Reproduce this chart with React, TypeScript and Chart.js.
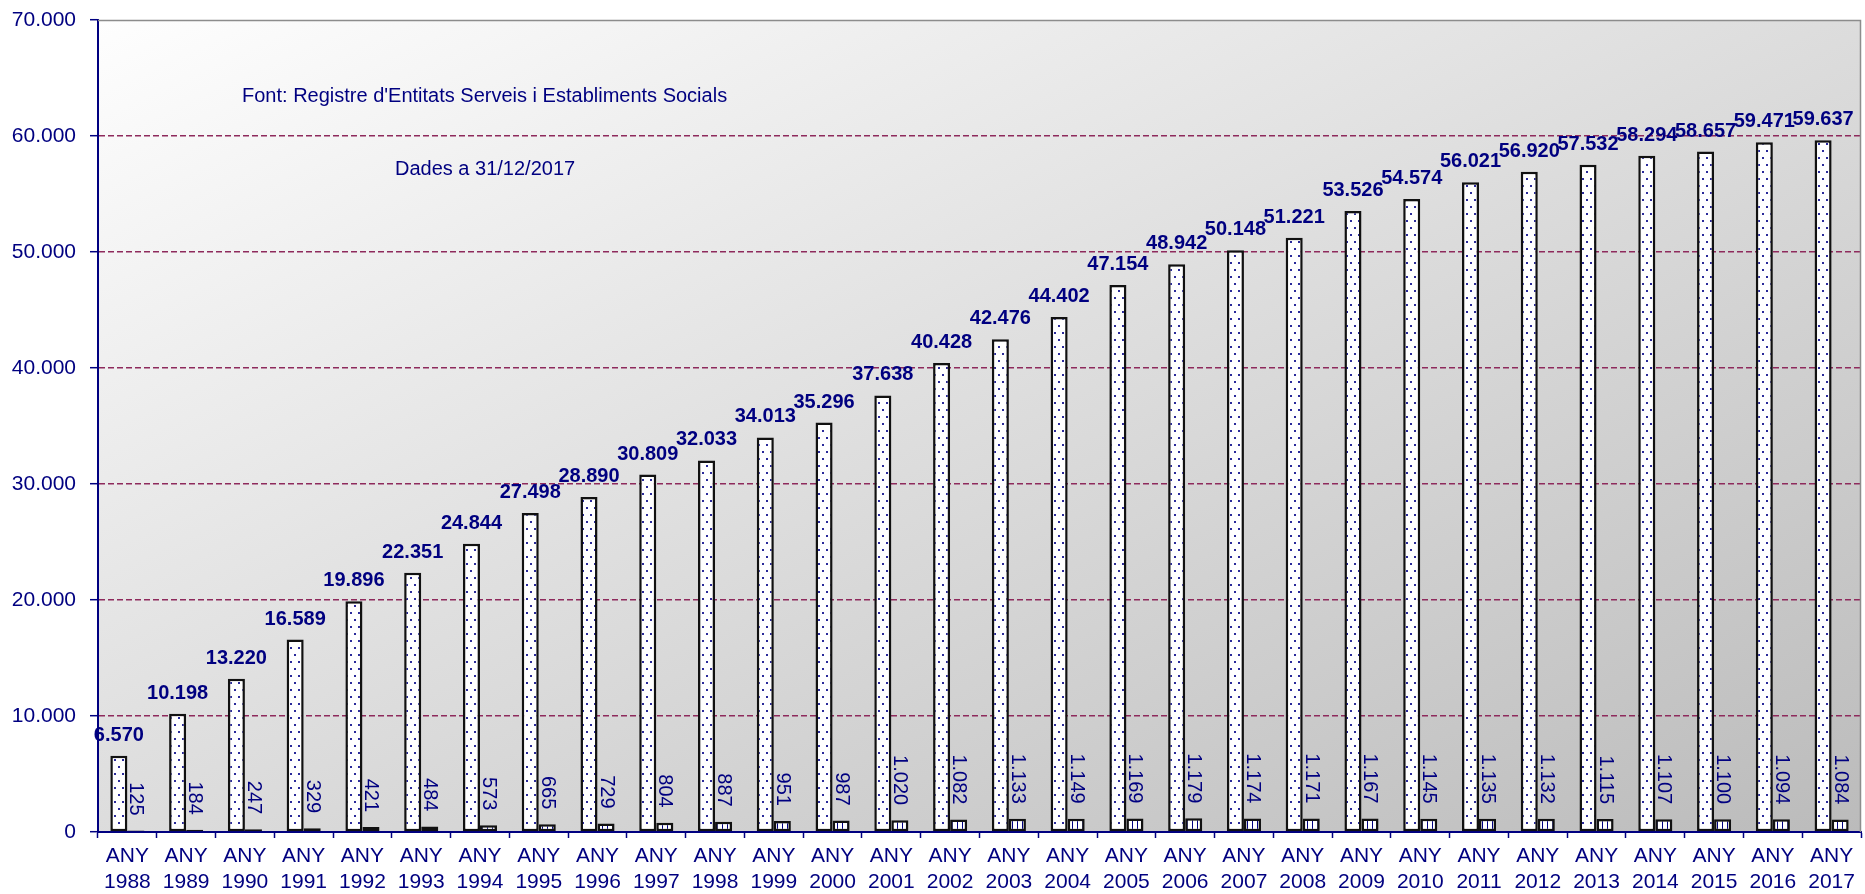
import React, { useEffect, useRef } from 'react';
import { Chart, registerables } from 'chart.js';

Chart.register(...registerables);

const categories = [
  '1988', '1989', '1990', '1991', '1992', '1993', '1994', '1995', '1996', '1997',
  '1998', '1999', '2000', '2001', '2002', '2003', '2004', '2005', '2006', '2007',
  '2008', '2009', '2010', '2011', '2012', '2013', '2014', '2015', '2016', '2017',
];
const categoryPrefix = 'ANY';

const mainValues = [
  6570, 10198, 13220, 16589, 19896, 22351, 24844, 27498, 28890, 30809,
  32033, 34013, 35296, 37638, 40428, 42476, 44402, 47154, 48942, 50148,
  51221, 53526, 54574, 56021, 56920, 57532, 58294, 58657, 59471, 59637,
];

const secondValues = [
  125, 184, 247, 329, 421, 484, 573, 665, 729, 804,
  887, 951, 987, 1020, 1082, 1133, 1149, 1169, 1179, 1174,
  1171, 1167, 1145, 1135, 1132, 1115, 1107, 1100, 1094, 1084,
];

const yMin = 0;
const yMax = 70000;
const yStep = 10000;

const sourceNote = "Font: Registre d'Entitats Serveis i Establiments Socials";
const dateNote = 'Dades a 31/12/2017';

const NAVY = '#000080';
const FONT = '"Liberation Sans", Arial, sans-serif';

const fmt = (v: number) => Math.round(v).toString().replace(/\B(?=(\d{3})+(?!\d))/g, '.');

function makeDotPattern(ctx: CanvasRenderingContext2D) {
  const c = document.createElement('canvas');
  c.width = 8;
  c.height = 14;
  const g = c.getContext('2d')!;
  g.fillStyle = '#ffffff';
  g.fillRect(0, 0, 8, 14);
  g.fillStyle = '#2a2a9a';
  g.fillRect(2, 3, 2, 2);
  g.fillRect(6, 10, 2, 2);
  return ctx.createPattern(c, 'repeat')!;
}

function makeStripePattern(ctx: CanvasRenderingContext2D) {
  const c = document.createElement('canvas');
  c.width = 5;
  c.height = 4;
  const g = c.getContext('2d')!;
  g.fillStyle = '#ffffff';
  g.fillRect(0, 0, 5, 4);
  g.fillStyle = NAVY;
  g.fillRect(2, 0, 1, 4);
  return ctx.createPattern(c, 'repeat')!;
}

const decorPlugin = {
  id: 'decor',
  beforeDraw(chart: any) {
    const { ctx, chartArea: a } = chart;
    const w = a.right - a.left;
    const h = a.bottom - a.top;
    const k = (2 * w * h) / (w * w + h * h);
    const g = ctx.createLinearGradient(a.left, a.top, a.left + h * k, a.top + w * k);
    g.addColorStop(0, '#fefefe');
    g.addColorStop(1, '#bbbbbb');
    ctx.save();
    ctx.fillStyle = g;
    ctx.fillRect(a.left, a.top, w, h);
    ctx.restore();
  },
  afterDraw(chart: any) {
    const { ctx, chartArea: a } = chart;
    ctx.save();
    // top and right frame
    ctx.strokeStyle = '#8c8c8c';
    ctx.lineWidth = 1.5;
    ctx.beginPath();
    ctx.moveTo(a.left, a.top + 0.5);
    ctx.lineTo(a.right - 0.5, a.top + 0.5);
    ctx.lineTo(a.right - 0.5, a.bottom);
    ctx.stroke();

    // notes
    ctx.fillStyle = NAVY;
    ctx.font = `20px ${FONT}`;
    ctx.textAlign = 'left';
    ctx.textBaseline = 'alphabetic';
    ctx.fillText(sourceNote, a.left + 144, a.top + 82);
    ctx.fillText(dateNote, a.left + 297, a.top + 155);

    // labels dataset 0
    const m0 = chart.getDatasetMeta(0);
    ctx.font = `bold 20px ${FONT}`;
    ctx.textAlign = 'center';
    m0.data.forEach((bar: any, i: number) => {
      ctx.fillText(fmt(mainValues[i]), bar.x, bar.y - 15);
    });

    // labels dataset 1 (rotated)
    const m1 = chart.getDatasetMeta(1);
    ctx.font = `20px ${FONT}`;
    m1.data.forEach((bar: any, i: number) => {
      ctx.save();
      ctx.translate(bar.x, bar.y - 15);
      ctx.rotate(Math.PI / 2);
      ctx.textAlign = 'right';
      ctx.textBaseline = 'middle';
      ctx.fillText(fmt(secondValues[i]), 0, 0);
      ctx.restore();
    });
    ctx.restore();
  },
};

export default function App() {
  const ref = useRef<HTMLCanvasElement>(null);

  useEffect(() => {
    const canvas = ref.current!;
    const ctx = canvas.getContext('2d')!;
    const chart = new Chart(canvas, {
      type: 'bar',
      data: {
        labels: categories.map((c) => [categoryPrefix, c]),
        datasets: [
          {
            label: 'Total',
            data: mainValues,
            backgroundColor: makeDotPattern(ctx),
            borderColor: '#111111',
            borderWidth: 2.5,
            borderSkipped: false,
            categoryPercentage: 0.58,
            barPercentage: 1,
          },
          {
            label: 'Altes',
            data: secondValues,
            backgroundColor: makeStripePattern(ctx),
            borderColor: '#111111',
            borderWidth: 2.5,
            borderSkipped: false,
            categoryPercentage: 0.58,
            barPercentage: 1,
          },
        ],
      } as any,
      options: {
        responsive: false,
        animation: false,
        events: [],
        layout: { padding: { top: 20, right: 4, left: 0, bottom: 0 } },
        plugins: {
          legend: { display: false },
          tooltip: { enabled: false },
          title: { display: false },
        },
        scales: {
          x: {
            offset: true,
            grid: {
              offset: true,
              drawOnChartArea: false,
              drawTicks: true,
              tickLength: 6,
              tickColor: NAVY,
              tickWidth: 1.5,
            },
            border: { display: true, color: NAVY, width: 2 },
            ticks: {
              color: NAVY,
              font: { family: FONT, size: 21, lineHeight: 1.25 },
              padding: 5,
              maxRotation: 0,
              autoSkip: false,
            },
            afterFit: (s: any) => {
              s.height = 62;
              s.paddingLeft = 0;
              s.paddingRight = 0;
            },
          },
          y: {
            min: yMin,
            max: yMax,
            grid: {
              color: (c: any) =>
                c.tick && (c.tick.value === yMin || c.tick.value === yMax) ? 'rgba(0,0,0,0)' : '#8e2a5c',
              lineWidth: 1.4,
              drawTicks: true,
              tickLength: 8,
              tickColor: NAVY,
              tickWidth: 1.5,
            },
            border: { display: true, color: NAVY, width: 2, dash: [6, 3] },
            ticks: {
              stepSize: yStep,
              color: NAVY,
              font: { family: FONT, size: 21 },
              padding: 14,
              callback: (v: any) => fmt(Number(v)),
            },
            afterFit: (s: any) => {
              s.width = 98;
              s.paddingTop = 0;
              s.paddingBottom = 0;
            },
          },
        },
      } as any,
      plugins: [decorPlugin],
    });
    return () => chart.destroy();
  }, []);

  return (
    <div style={{ position: 'fixed', left: 0, top: 0, width: 1865, height: 894, background: '#ffffff' }}>
      <canvas ref={ref} width={1865} height={894} style={{ display: 'block', width: 1865, height: 894 }} />
    </div>
  );
}
